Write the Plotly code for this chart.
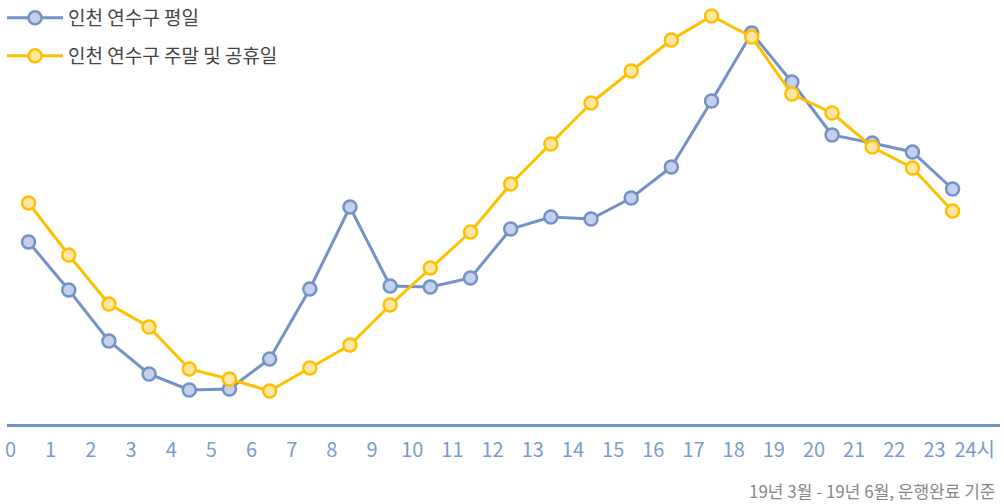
import plotly.graph_objects as go

hours = list(range(24))
tick_labels = [str(h) for h in range(24)] + ["24시"]
weekday = [182, 134, 83, 50, 34, 35, 65, 135, 217, 138, 137, 146, 195, 207, 205, 226,
           257, 323, 391, 342, 289, 281, 272, 235]
weekend = [221, 169, 120, 97, 55, 45, 33, 56, 79, 119, 156, 192, 240, 280, 321, 353,
           384, 408, 387, 330, 311, 277, 256, 213]
name_weekday = "인천 연수구 평일"
name_weekend = "인천 연수구 주말 및 공휴일"
note = "19년 3월 - 19년 6월, 운행완료 기준"

xs = [h + 0.45 for h in hours]

BLUE = "#7393c8"
BLUE_FILL = "#c5d0ea"
YEL = "#ffc000"
YEL_FILL = "#ffe6a3"

fig = go.Figure()
fig.add_trace(go.Scatter(
    x=xs, y=weekday, name=name_weekday, mode="lines+markers",
    line=dict(color=BLUE, width=3),
    marker=dict(size=13, color=BLUE_FILL, line=dict(color=BLUE, width=2.5)),
    cliponaxis=False, legend="legend"))
fig.add_trace(go.Scatter(
    x=xs, y=weekend, name=name_weekend, mode="lines+markers",
    line=dict(color=YEL, width=3),
    marker=dict(size=13, color=YEL_FILL, line=dict(color=YEL, width=2.5)),
    cliponaxis=False, legend="legend2"))

legend_font = dict(family="Noto Sans CJK KR, Noto Sans", size=19, color="#444444")
fig.update_layout(
    width=1004, height=504,
    margin=dict(l=7, r=4, t=10, b=80, autoexpand=False),
    paper_bgcolor="white", plot_bgcolor="white",
    showlegend=True,
    legend=dict(x=-0.005, y=1.0266, xanchor="left", yanchor="top",
                font=legend_font, bgcolor="rgba(0,0,0,0)", itemwidth=56),
    legend2=dict(x=-0.005, y=0.9348, xanchor="left", yanchor="top",
                 font=legend_font, bgcolor="rgba(0,0,0,0)", itemwidth=56),
    xaxis=dict(range=[-0.087, 24.63], tickvals=list(range(25)), ticktext=tick_labels,
               showgrid=False, zeroline=False, showline=True, linecolor=BLUE, linewidth=3,
               ticks="", tickangle=0, automargin=False, ticklabelstandoff=6,
               tickfont=dict(family="Liberation Sans Narrow, Noto Sans CJK KR", size=20,
                             color="#7b9bd2")),
    yaxis=dict(range=[0, 414], visible=False, showgrid=False, zeroline=False),
)
fig.add_annotation(text=note, xref="paper", yref="paper", x=1.0, y=0, yshift=-66, xshift=-3,
                   xanchor="right", yanchor="middle", showarrow=False,
                   font=dict(family="Liberation Sans Narrow, Noto Sans CJK KR", size=17, color="#888888"))

fig.write_html("out.html", config={"displayModeBar": False},
               post_script="document.body.style.margin='0';")
